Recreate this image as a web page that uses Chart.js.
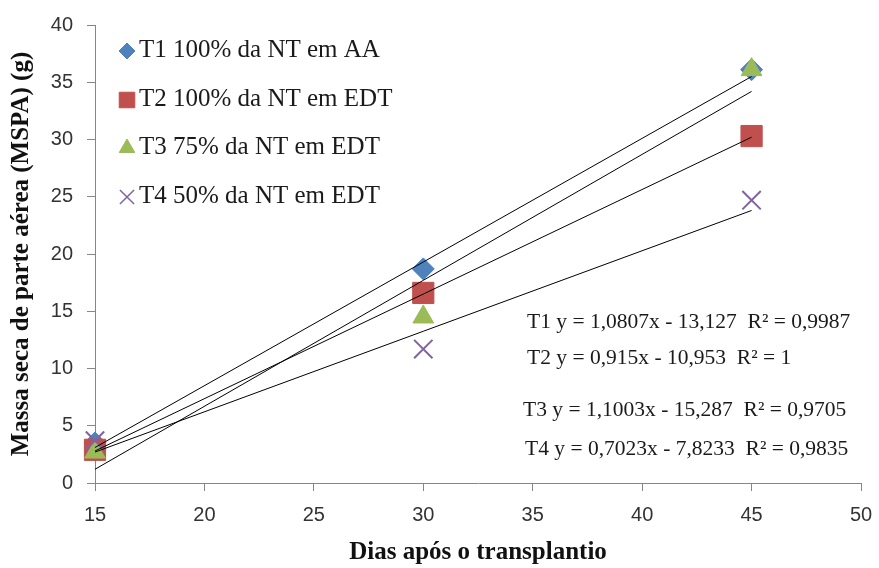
<!DOCTYPE html>
<html>
<head>
<meta charset="utf-8">
<script src="https://cdn.jsdelivr.net/npm/chart.js@4/dist/chart.umd.min.js"></script>
<style>
  html, body { margin: 0; padding: 0; background: #fff; }
  #wrap { width: 879px; height: 568px; position: relative; }
</style>
</head>
<body>
<div id="wrap"><canvas id="chart"></canvas></div>
<script>
// values
const days = [15, 30, 45];
const t1 = [3.5, 18.7, 36.1];
const t2 = [2.9, 16.6, 30.3];
const t3 = [2.7, 14.5, 36.1];
const t4 = [3.7, 11.7, 24.7];

// trendline ends (at 15 and 45 days)
const trendDays = [15, 45];
const trend1 = [3.1, 35.5];
const trend2 = [2.8, 30.2];
const trend3 = [1.2, 34.2];
const trend4 = [2.7, 23.8];

const seriesNames = [
    'T1 100% da NT em AA',
    'T2 100% da NT em EDT',
    'T3 75% da NT em EDT',
    'T4 50% da NT em EDT'
];
const equations = [
    'T1 y = 1,0807x - 13,127  R\u00b2 = 0,9987',
    'T2 y = 0,915x - 10,953  R\u00b2 = 1',
    'T3 y = 1,1003x - 15,287  R\u00b2 = 0,9705',
    'T4 y = 0,7023x - 7,8233  R\u00b2 = 0,9835'
];

const colors = ['#4F81BD', '#C0504D', '#9BBB59', '#8064A2'];
const styles = ['rectRot', 'rect', 'triangle', 'crossRot'];
const radii = [11, 15, 12, 13];

const toPts = (xs, ys) => xs.map((x, i) => ({ x, y: ys[i] }));

const pointSets = [t1, t2, t3, t4].map((vals, i) => ({
    type: 'scatter',
    label: seriesNames[i],
    data: toPts(days, vals),
    pointStyle: styles[i],
    pointRadius: radii[i],
    pointHoverRadius: radii[i],
    backgroundColor: colors[i],
    borderColor: colors[i],
    borderWidth: i === 3 ? 2 : 1,
    showLine: false,
    clip: false,
    order: 4 - i
}));

const trendSets = [trend1, trend2, trend3, trend4].map(vals => ({
    type: 'line',
    label: '',
    data: toPts(trendDays, vals),
    borderColor: '#000',
    borderWidth: 1,
    pointRadius: 0,
    fill: false,
    clip: false,
    order: 0
}));

// legend and trendline equations drawn inside the plot
const notes = {
    id: 'notes',
    afterDraw(chart) {
        const ctx = chart.ctx;
        ctx.save();
        ctx.textBaseline = 'middle';
        ctx.textAlign = 'left';
        ctx.fillStyle = '#1a1a1a';
        ctx.font = '25px "Liberation Serif", serif';
        const legY = [50, 99, 147, 196];
        seriesNames.forEach((name, i) => {
            ctx.save();
            ctx.fillStyle = colors[i];
            ctx.strokeStyle = colors[i];
            ctx.lineWidth = i === 3 ? 1.5 : 1;
            Chart.helpers.drawPoint(ctx, { pointStyle: styles[i], radius: [8, 11, 9, 10][i], rotation: 0, borderWidth: 1 }, 127, legY[i] + 1);
            ctx.restore();
            ctx.fillText(name, 139, legY[i]);
        });
        ctx.font = '21.5px "Liberation Serif", serif';
        const eqX = [527, 527, 523, 525];
        const eqY = [322, 358, 410, 449];
        equations.forEach((t, i) => ctx.fillText(t, eqX[i], eqY[i]));
        ctx.restore();
    }
};

const tickFont = { family: '"Liberation Sans", Arial, sans-serif', size: 20 };

new Chart(document.getElementById('chart'), {
    data: { datasets: [...trendSets, ...pointSets] },
    options: {
        responsive: true,
        maintainAspectRatio: false,
        animation: false,
        layout: { padding: { top: 25, right: 18, left: 0, bottom: 0 } },
        plugins: {
            legend: { display: false },
            tooltip: { enabled: false }
        },
        scales: {
            x: {
                type: 'linear',
                min: 15,
                max: 50,
                ticks: { stepSize: 5, color: '#333', font: tickFont, padding: 12 },
                grid: { drawOnChartArea: false, drawTicks: true, tickLength: 8, color: '#868686' },
                border: { display: true, color: '#868686' },
                title: {
                    display: true, text: 'Dias após o transplantio', color: '#111',
                    font: { family: '"Liberation Serif", serif', size: 25, weight: 'bold' },
                    padding: { top: 0, bottom: 0 }
                },
                afterFit(s) { s.height = 85; s.paddingRight = 0; s.paddingLeft = 0; }
            },
            y: {
                min: 0,
                max: 40,
                ticks: { stepSize: 5, color: '#333', font: tickFont, padding: 14 },
                grid: { drawOnChartArea: false, drawTicks: true, tickLength: 8, color: '#868686' },
                border: { display: true, color: '#868686' },
                title: {
                    display: true, text: 'Massa seca de parte aérea (MSPA) (g)', color: '#111',
                    font: { family: '"Liberation Serif", serif', size: 25, weight: 'bold' },
                    padding: { top: 7, bottom: 0 }
                },
                afterFit(s) { s.width = 95; s.paddingTop = 0; s.paddingBottom = 0; }
            }
        }
    },
    plugins: [notes]
});
</script>
</body>
</html>
